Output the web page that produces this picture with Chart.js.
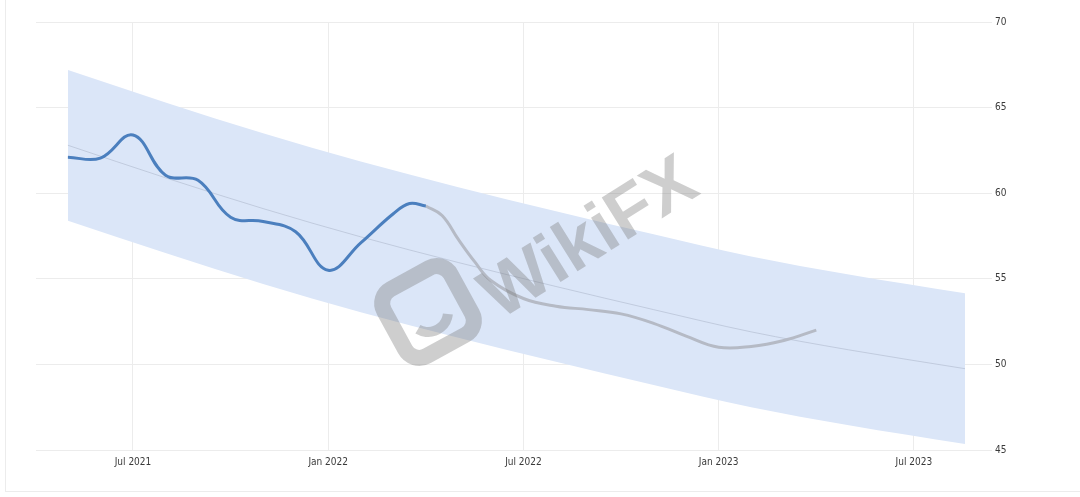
<!DOCTYPE html>
<html>
<head>
<meta charset="utf-8">
<script src="https://cdn.jsdelivr.net/npm/chart.js@4/dist/chart.umd.min.js"></script>
<style>
	html, body { margin: 0; background: #fff; overflow: hidden; }
	#card { position: absolute; left: 5px; top: -2px; width: 1100px; height: 494px; border: 1px solid #ececec; box-sizing: border-box; }
	#chart-box { position: absolute; left: 0; top: 0; width: 1080px; height: 497px; }
</style>
</head>
<body>
<div id="card"></div>
<div id="chart-box"><canvas id="forecast-canvas"></canvas></div>
<script>
// x values are months counted from Jan 2021 (0 = Jan 2021, 6 = Jul 2021, ...)
const tickMonths = [6, 12, 18, 24, 30];
const tickLabels = ['Jul 2021', 'Jan 2022', 'Jul 2022', 'Jan 2023', 'Jul 2023'];

// actual readings (blue)
const actualMonths = [4, 5, 6, 7, 8, 9, 10, 11, 12, 13, 14, 14.5, 15];
const actualValues = [62.1, 62.05, 63.4, 61.05, 60.75, 58.6, 58.35, 57.75, 55.5, 57.1, 58.8, 59.4, 59.25];

// forecast (grey)
const forecastMonths = [15, 15.5, 16, 16.5, 17, 18, 19, 20, 21, 22, 23, 24, 25, 26, 27];
const forecastValues = [59.25, 58.7, 57.3, 56.0, 54.9, 53.85, 53.4, 53.2, 52.95, 52.4, 51.65, 51.0, 51.05, 51.4, 52.0];

// trend and its band
const bandMonths  = [4, 7, 10, 13, 16, 19, 22, 25, 28, 31.57];
const bandUpper   = [67.2, 65.3, 63.5, 61.85, 60.35, 58.95, 57.6, 56.3, 55.25, 54.15];
const bandLower   = [58.4, 56.5, 54.7, 53.05, 51.55, 50.15, 48.8, 47.5, 46.45, 45.35];
const trendValues = [62.8, 60.9, 59.1, 57.45, 55.95, 54.55, 53.2, 51.9, 50.85, 49.75];

const yTicks = [45, 50, 55, 60, 65, 70];

function toPoints( xs, ys) {
	return xs.map( function( x, i) { return { x: x, y: ys[i] }; });
}

const labelFont = { family: '"Liberation Sans Narrow", "DejaVu Sans Condensed", "Liberation Sans", sans-serif', size: 10 };

// faint watermark across the middle
const watermark = {
	id: 'watermark',
	afterDatasetsDraw( chart) {
		const ctx = chart.ctx;
		ctx.save();
		ctx.strokeStyle = 'rgba(120,120,120,0.36)';
		// logo
		ctx.translate( 428, 312);
		ctx.rotate( -0.5);
		ctx.lineWidth = 16;
		ctx.beginPath();
		ctx.roundRect( -38, -38, 76, 76, 16);
		ctx.stroke();
		ctx.beginPath();
		ctx.arc( 0, 0, 20, 0.6, 2.6);
		ctx.lineWidth = 10;
		ctx.stroke();
		ctx.restore();

		ctx.save();
		ctx.fillStyle = 'rgba(120,120,120,0.36)';
		ctx.translate( 590, 240);
		ctx.rotate( -0.56);
		ctx.font = 'bold 72px "Liberation Sans", sans-serif';
		ctx.textAlign = 'center';
		ctx.textBaseline = 'middle';
		ctx.fillText( 'WikiFX', 0, 0);
		ctx.restore();
	}
};

const ctx = document.getElementById('forecast-canvas').getContext('2d');
const chart = new Chart( ctx, {
	type: 'line',
	plugins: [watermark],
	data: {
		datasets: [
			{
				label: 'Actual',
				data: toPoints( actualMonths, actualValues),
				borderColor: '#4b7fbe',
				borderWidth: 3,
				pointRadius: 0,
				tension: 0.4,
				fill: false,
				order: 0
			},
			{
				label: 'Forecast',
				data: toPoints( forecastMonths, forecastValues),
				borderColor: '#b5bac5',
				borderWidth: 3,
				pointRadius: 0,
				tension: 0.4,
				fill: false,
				order: 1
			},
			{
				label: 'Trend',
				data: toPoints( bandMonths, trendValues),
				borderColor: 'rgba(175,185,205,0.6)',
				borderWidth: 1,
				pointRadius: 0,
				cubicInterpolationMode: 'monotone',
				fill: false,
				order: 2
			},
			{
				label: 'Upper',
				data: toPoints( bandMonths, bandUpper),
				borderWidth: 0,
				borderColor: 'rgba(0,0,0,0)',
				backgroundColor: '#dbe6f8',
				pointRadius: 0,
				cubicInterpolationMode: 'monotone',
				fill: '+1',
				order: 3
			},
			{
				label: 'Lower',
				data: toPoints( bandMonths, bandLower),
				borderWidth: 0,
				borderColor: 'rgba(0,0,0,0)',
				pointRadius: 0,
				cubicInterpolationMode: 'monotone',
				fill: false,
				order: 4
			}
		]
	},
	options: {
		responsive: true,
		maintainAspectRatio: false,
		animation: false,
		layout: {
			padding: { left: 36, top: 22, right: 0, bottom: 0 }
		},
		plugins: {
			legend: { display: false },
			tooltip: { enabled: false }
		},
		scales: {
			x: {
				type: 'linear',
				min: 3.02,
				max: 32.4,
				afterBuildTicks: function( scale) {
					scale.ticks = tickMonths.map( function( m) { return { value: m }; });
				},
				afterFit: function( scale) {
					scale.height = 47;
				},
				ticks: {
					autoSkip: false,
					maxRotation: 0,
					padding: 6,
					color: '#3a3a3a',
					font: labelFont,
					callback: function( value) {
						return tickLabels[ tickMonths.indexOf( value)];
					}
				},
				grid: {
					color: '#ececec',
					drawTicks: false
				},
				border: { display: false }
			},
			y: {
				position: 'right',
				min: 45,
				max: 70,
				afterBuildTicks: function( scale) {
					scale.ticks = yTicks.map( function( v) { return { value: v }; });
				},
				afterFit: function( scale) {
					scale.width = 88;
				},
				ticks: {
					padding: 3,
					color: '#3a3a3a',
					font: labelFont
				},
				grid: {
					color: '#ececec',
					drawTicks: false
				},
				border: { display: false }
			}
		}
	}
});
</script>
</body>
</html>
